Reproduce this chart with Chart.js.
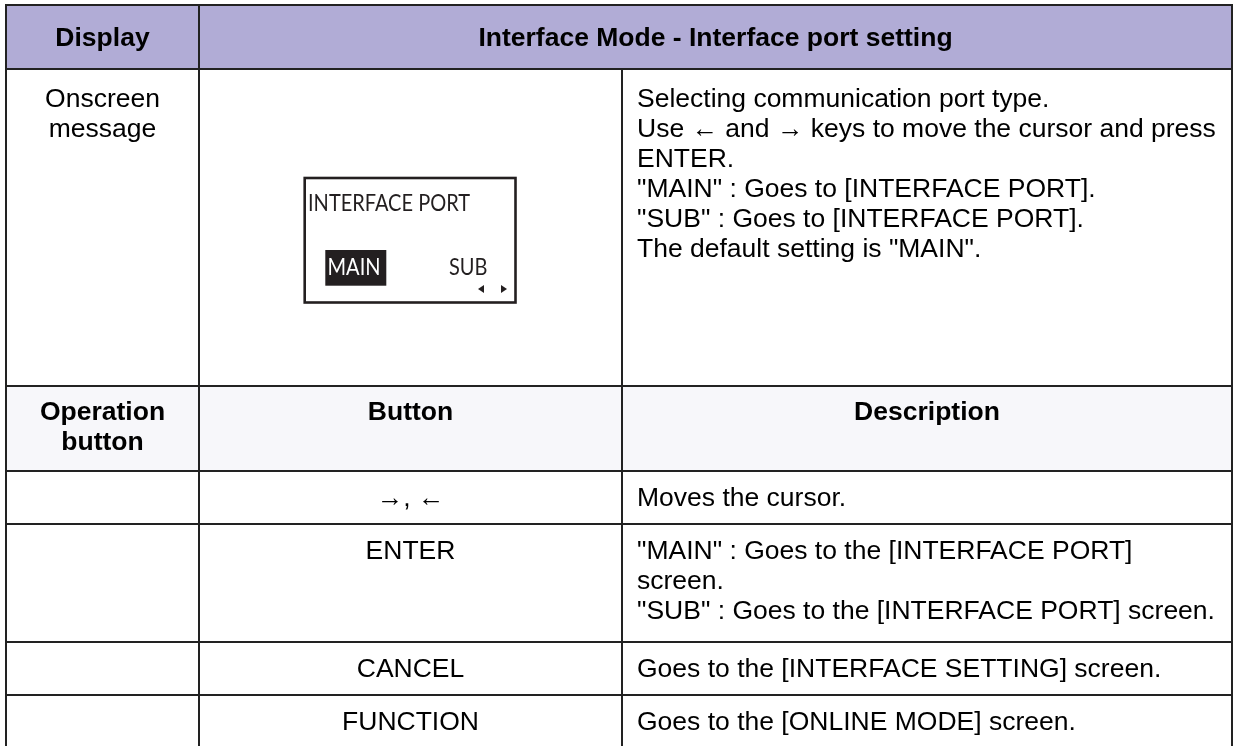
<!DOCTYPE html>
<html>
<head>
<meta charset="utf-8">
<script src="https://cdn.jsdelivr.net/npm/chart.js@4"></script>
<style>
  html, body { margin: 0; padding: 0; background: #fff; }
  #wrap { width: 1234px; height: 746px; }
</style>
</head>
<body>
<div id="wrap"><canvas id="table-chart" width="1234" height="746"></canvas></div>
<script>
// table content
const headerCols = ["Display", "Interface Mode - Interface port setting"];
const screenLabel = ["Onscreen", "message"];
const screenTitle = "INTERFACE PORT";
const screenChoices = ["MAIN", "SUB"];
const screenNotes = [
    "Selecting communication port type.",
    "Use \u2190 and \u2192 keys to move the cursor and press",
    "ENTER.",
    "\"MAIN\" : Goes to [INTERFACE PORT].",
    "\"SUB\" : Goes to [INTERFACE PORT].",
    "The default setting is \"MAIN\".",
];
const opHeaders = [["Operation", "button"], ["Button"], ["Description"]];
const buttons = ["\u2192, \u2190", "ENTER", "CANCEL", "FUNCTION"];
const buttonNotes = [
    ["Moves the cursor."],
    ["\"MAIN\" : Goes to the [INTERFACE PORT]", "screen.", "\"SUB\" : Goes to the [INTERFACE PORT] screen."],
    ["Goes to the [INTERFACE SETTING] screen."],
    ["Goes to the [ONLINE MODE] screen."],
];

// layout (scale units)
const colEdges = [6, 199, 622, 1232];
const rowEdges = [5, 69, 386, 471, 524, 642, 695, 760];
const lineH = 30;
const textFont = '26.5px "Liberation Sans", Arial, sans-serif';
const boldFont = 'bold 26.5px "Liberation Sans", Arial, sans-serif';
const lcdFont = '23px Lato, "Open Sans", sans-serif';
const lcdSquash = 0.87;

const tablePlugin = {
    id: "tableDraw",
    afterDraw(chart) {
        const ctx = chart.ctx;
        const sx = chart.scales.x;
        const sy = chart.scales.y;
        const px = (v) => sx.getPixelForValue(v);
        const py = (v) => sy.getPixelForValue(v);
        const cx = (i, j) => (px(colEdges[i]) + px(colEdges[j])) / 2;
        const lcdText = (t, x, y) => {
            ctx.save();
            ctx.translate(x, y);
            ctx.scale(lcdSquash, 1);
            ctx.fillText(t, 0, 0);
            ctx.restore();
        };

        ctx.save();
        // header fills
        ctx.fillStyle = "#b1acd6";
        ctx.fillRect(px(colEdges[0]), py(rowEdges[0]), px(colEdges[3]) - px(colEdges[0]), py(rowEdges[1]) - py(rowEdges[0]));
        ctx.fillStyle = "#f7f7fa";
        ctx.fillRect(px(colEdges[0]), py(rowEdges[2]), px(colEdges[3]) - px(colEdges[0]), py(rowEdges[3]) - py(rowEdges[2]));

        // grid
        ctx.strokeStyle = "#222";
        ctx.lineWidth = 2;
        ctx.beginPath();
        rowEdges.slice(0, 7).forEach((r) => {
            ctx.moveTo(px(colEdges[0]) - 1, py(r));
            ctx.lineTo(px(colEdges[3]) + 1, py(r));
        });
        [0, 1, 3].forEach((c) => {
            ctx.moveTo(px(colEdges[c]), py(rowEdges[0]));
            ctx.lineTo(px(colEdges[c]), py(rowEdges[7]));
        });
        ctx.moveTo(px(colEdges[2]), py(rowEdges[1]));
        ctx.lineTo(px(colEdges[2]), py(rowEdges[7]));
        ctx.stroke();

        ctx.fillStyle = "#000";
        ctx.textBaseline = "alphabetic";

        // header row
        ctx.font = boldFont;
        ctx.textAlign = "center";
        const hb = (py(rowEdges[0]) + py(rowEdges[1])) / 2 + 9;
        ctx.fillText(headerCols[0], cx(0, 1), hb);
        ctx.fillText(headerCols[1], cx(1, 3), hb);

        // onscreen row
        ctx.font = textFont;
        screenLabel.forEach((t, i) => ctx.fillText(t, cx(0, 1), py(rowEdges[1]) + 38 + i * lineH));
        ctx.textAlign = "left";
        screenNotes.forEach((t, i) => ctx.fillText(t, px(colEdges[2]) + 15, py(rowEdges[1]) + 38 + i * lineH));

        // lcd
        const bx0 = px(304.7), bx1 = px(515.5), by0 = py(178), by1 = py(302.5);
        ctx.lineWidth = 2.6;
        ctx.strokeStyle = "#231f20";
        ctx.strokeRect(bx0, by0, bx1 - bx0, by1 - by0);
        ctx.font = lcdFont;
        ctx.fillStyle = "#231f20";
        lcdText(screenTitle, px(308), py(211));
        ctx.fillRect(px(325.3), py(250), px(386.3) - px(325.3), py(285.7) - py(250));
        ctx.fillStyle = "#fff";
        lcdText(screenChoices[0], px(327.5), py(275));
        ctx.fillStyle = "#231f20";
        lcdText(screenChoices[1], px(449), py(275));
        ctx.beginPath();
        ctx.moveTo(px(478), py(289)); ctx.lineTo(px(484), py(285)); ctx.lineTo(px(484), py(293)); ctx.closePath();
        ctx.moveTo(px(507), py(289)); ctx.lineTo(px(501), py(285)); ctx.lineTo(px(501), py(293)); ctx.closePath();
        ctx.fill();

        // operation header row
        ctx.fillStyle = "#000";
        ctx.font = boldFont;
        ctx.textAlign = "center";
        opHeaders.forEach((lines, c) => {
            lines.forEach((t, i) => ctx.fillText(t, cx(c, c + 1), py(rowEdges[2]) + 34 + i * lineH));
        });

        // button rows
        ctx.font = textFont;
        buttons.forEach((b, r) => {
            const top = py(rowEdges[3 + r]);
            ctx.textAlign = "center";
            ctx.fillText(b, cx(1, 2), top + 35);
            ctx.textAlign = "left";
            buttonNotes[r].forEach((t, i) => ctx.fillText(t, px(colEdges[2]) + 15, top + 35 + i * lineH));
        });
        ctx.restore();
    },
};

const config = {
    type: "scatter",
    data: { datasets: [] },
    options: {
        animation: false,
        responsive: false,
        devicePixelRatio: 1,
        layout: { padding: 0 },
        scales: {
            x: { type: "linear", display: false, min: 0, max: 1234 },
            y: { type: "linear", display: false, min: 0, max: 746, reverse: true },
        },
        plugins: {
            legend: { display: false },
            tooltip: { enabled: false },
        },
    },
    plugins: [tablePlugin],
};

new Chart(document.getElementById("table-chart"), config);
</script>
</body>
</html>
